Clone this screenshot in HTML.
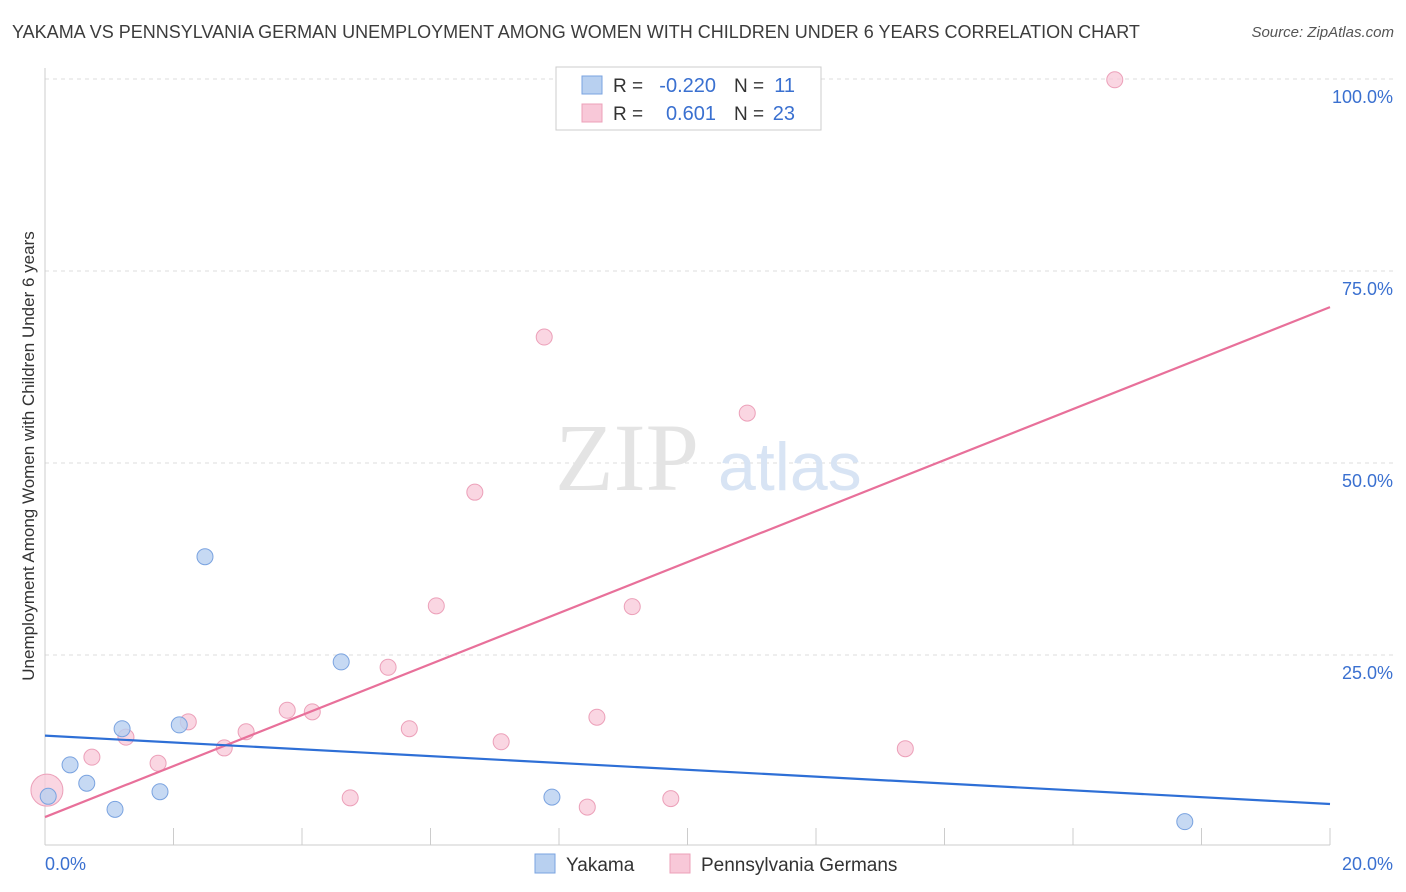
<!DOCTYPE html>
<html><head><meta charset="utf-8"><style>
body{margin:0;background:#fff;font-family:"Liberation Sans",sans-serif;}
#wrap{position:relative;width:1406px;height:892px;overflow:hidden;}
.t{position:absolute;white-space:nowrap;}
</style></head><body>
<div id="wrap">
<div class="t" style="left:12px;top:22px;font-size:18px;color:#3c3c3c;">YAKAMA VS PENNSYLVANIA GERMAN UNEMPLOYMENT AMONG WOMEN WITH CHILDREN UNDER 6 YEARS CORRELATION CHART</div>
<div class="t" style="right:12px;top:24px;font-size:15px;color:#555;font-style:italic;">Source: ZipAtlas.com</div>
<svg id="svg" width="1406" height="892" style="position:absolute;left:0;top:0;"></svg>
</div>
<script>
const yakX=[0.05,0.39,0.65,1.09,1.20,1.79,2.09,2.49,4.61,7.89,17.74];
const yakY=[6.6,10.7,8.3,4.9,15.4,7.2,15.9,37.8,24.1,6.5,3.3];
const penX=[0.03,0.73,1.26,1.76,2.23,2.79,3.13,3.77,4.16,4.75,5.34,5.67,6.09,6.69,7.10,7.77,8.44,8.59,9.14,9.74,10.93,13.39,16.65];
const penY=[7.4,11.7,14.3,10.9,16.3,12.9,15.0,17.8,17.6,6.4,23.4,15.4,31.4,46.2,13.7,66.4,5.2,16.9,31.3,6.3,56.5,12.8,99.9];
const yakLine=[14.5,5.6];
const penLine=[3.9,70.3];
const yTicks=[25,50,75,100];
const yTickLabels=["25.0%","50.0%","75.0%","100.0%"];
const xTickVals=[0,2,4,6,8,10,12,14,16,18,20];
const legendR=["-0.220","0.601"], legendN=["11","23"];

const X=v=>45+v/20*1285, Y=v=>847-v/100*768;
const svg=document.getElementById('svg'), NS='http://www.w3.org/2000/svg';
function mk(tag,attrs,parent){const e=document.createElementNS(NS,tag);for(const k in attrs)e.setAttribute(k,attrs[k]);(parent||svg).appendChild(e);return e;}

yTicks.forEach((v,i)=>{
 const g=mk('line',{x1:45,x2:1393,y1:Y(v),y2:Y(v),stroke:'#ddd','stroke-dasharray':'4,4'});
 
 
 const t=mk('text',{x:1393,y:Y(v)+24,'text-anchor':'end','font-size':18,fill:'#3a70d0','font-family':'Liberation Sans, sans-serif'});
 t.textContent=yTickLabels[i];
 
 
});
const ax=mk('line',{x1:45,x2:45,y1:68,y2:845,stroke:'#ccc'});


const bx=mk('line',{x1:45,x2:1330,y1:845,y2:845,stroke:'#ccc'});


xTickVals.forEach(v=>{
 const l=mk('line',{x1:X(v),x2:X(v),y1:828,y2:845,stroke:'#ccc'});
 
 
});
[[0,'0.0%','start',45],[20,'20.0%','end',1393]].forEach(a=>{
 const t=mk('text',{x:a[3],y:870,'text-anchor':a[2],'font-size':18,fill:'#3a70d0','font-family':'Liberation Sans, sans-serif'});
 t.textContent=a[1];
 
 
});
const yt=mk('text',{x:0,y:0,transform:'translate(34,456) rotate(-90)','text-anchor':'middle','font-size':17,fill:'#333','font-family':'Liberation Sans, sans-serif'});
yt.textContent='Unemployment Among Women with Children Under 6 years';


// watermark
const wm=mk('text',{x:555,y:490,'font-size':96,fill:'#e4e4e4','font-family':'Liberation Serif, serif'});
wm.textContent='ZIP';


const wm2=mk('text',{x:718,y:490,'font-size':68,fill:'#d8e4f4','font-family':'Liberation Sans, sans-serif'});
wm2.textContent='atlas';



penX.forEach((x,i)=>{
 const c=mk('circle',{cx:X(x),cy:Y(penY[i]),r:i==0?16:8,fill:'#f8c8d8','fill-opacity':0.75,stroke:'#eca0b9','stroke-width':1});
 
 
});
yakX.forEach((x,i)=>{
 const c=mk('circle',{cx:X(x),cy:Y(yakY[i]),r:8,fill:'#b8d0f0','fill-opacity':0.8,stroke:'#7aa3e0','stroke-width':1});
 
 
});
const pl=mk('line',{x1:X(0),x2:X(20),y1:Y(penLine[0]),y2:Y(penLine[1]),stroke:'#e8709a','stroke-width':2.2});


const yl=mk('line',{x1:X(0),x2:X(20),y1:Y(yakLine[0]),y2:Y(yakLine[1]),stroke:'#2e6fd6','stroke-width':2.2});



// legend box
const lb=mk('rect',{x:556,y:67,width:265,height:63,fill:'#fff',stroke:'#ccc'});


[['#b8d0f0','#7aa3e0'],['#f8c8d8','#eca0b9']].forEach((c,i)=>{
 const y=76+i*28;
 const r=mk('rect',{x:582,y:y,width:20,height:18,fill:c[0],stroke:c[1]});
 
 
 const t=mk('text',{x:613,y:y+16,'font-size':19,fill:'#333','font-family':'Liberation Sans, sans-serif'});
 t.innerHTML='R = <tspan fill="#3a70d0">'+(i==0?'':'  ')+'</tspan>';
 
 
 const rv=mk('text',{x:716,y:y+16,'text-anchor':'end','font-size':20,fill:'#3a70d0','font-family':'Liberation Sans, sans-serif'});
 rv.textContent=legendR[i];
 
 
 const n=mk('text',{x:734,y:y+16,'font-size':19,fill:'#333','font-family':'Liberation Sans, sans-serif'});
 n.textContent='N =';
 
 
 const nv=mk('text',{x:795,y:y+16,'text-anchor':'end','font-size':20,fill:'#3a70d0','font-family':'Liberation Sans, sans-serif'});
 nv.textContent=legendN[i];
 
 
});
// bottom legend
[['Yakama',535,'#b8d0f0','#7aa3e0'],['Pennsylvania Germans',670,'#f8c8d8','#eca0b9']].forEach(a=>{
 const r=mk('rect',{x:a[1],y:854,width:20,height:19,fill:a[2],stroke:a[3]});
 
 
 const t=mk('text',{x:a[1]+31,y:871,'font-size':19,fill:'#333','font-family':'Liberation Sans, sans-serif'});
 t.textContent=a[0];
 
 
});
</script>
</body></html>
